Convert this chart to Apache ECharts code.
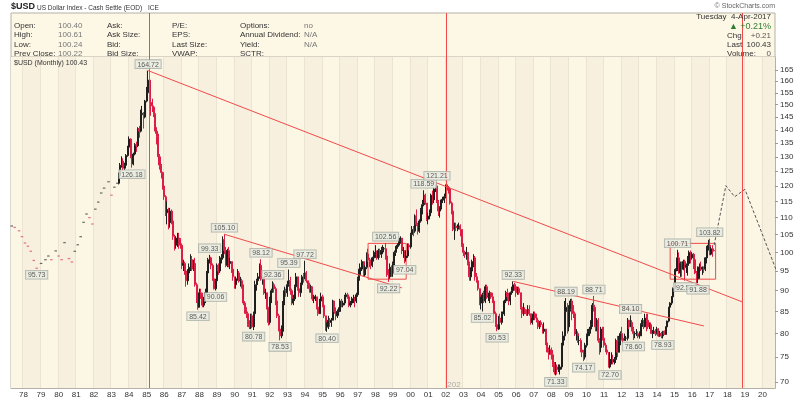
<!DOCTYPE html>
<html>
<head>
<meta charset="utf-8">
<script src="https://cdn.jsdelivr.net/npm/echarts@6/dist/echarts.min.js"></script>
<style>
  html, body { margin: 0; padding: 0; background: #fff; }
  #chart { width: 800px; height: 399px; }
</style>
</head>
<body>
<div id="chart"></div>
<script>
// months on the axis: 1977-05 .. 2021-12 (axis stops at 2020-09, the rest is for the projection)
const months = []
for (let y = 1977; y <= 2021; y++) {
  for (let m = 1; m <= 12; m++) {
    if (y === 1977 && m < 5) continue
    months.push(y + '-' + String(m).padStart(2, '0'))
  }
}
const axisEnd = '2020-09'
const yMin = 68.9
const yMax = 171.0
const yTicks = [70, 75, 80, 85, 90, 95, 100, 105, 110, 115, 120, 125, 130, 135, 140, 145, 150, 155, 160, 165]

// sparse early closes 1977-05 .. 1983-05 (drawn as dots)
const earlyCloses = [
  107.5, null, 107.1, null, null, 106.1, null, 104.4,
  null, 102.6, null, 101.7, null, 100.3, null, 97.8, null, 95.73, null, null,
  97.0, null, null, 98.0, null, 99.0, null, 98.0, null, null, 100.4, null,
  99.0, null, 98.0, null, 102.7, null, null, 98.3, null, 97.4, null, 100.3,
  null, 102.1, null, 104.4, null, 108.6, null, 111.1, null, 110.0, null, 108.1,
  null, 112.6, null, 114.8, null, 117.7, null, 119.3, null, null, 121.4, null,
  117.0, null, 119.6, null, 120.9
]

// monthly candles from 1983-06 .. 2017-04 (open = previous close)
const candleStart = '1983-06'
const closes = [
  123.5, 127.0, 128.5, 126.0, 127.0, 130.5, 133.5,
  136.5, 130.0, 127.5, 131.0, 134.5, 134.0, 140.5, 139.5, 146.0, 146.5, 145.0, 151.5,
  155.0, 160.5, 151.0, 149.5, 149.0, 146.0, 139.5, 137.5, 130.0, 127.0, 124.5, 120.0,
  116.5, 111.5, 112.5, 108.5, 112.0, 109.0, 104.5, 102.0, 102.5, 104.0, 103.5, 102.0,
  96.5, 97.0, 95.0, 92.5, 94.5, 96.0, 98.0, 95.5, 97.0, 91.5, 87.5, 86.0,
  89.5, 89.0, 86.5, 87.5, 89.5, 94.5, 98.0, 98.5, 96.5, 93.0, 90.5, 92.5,
  96.5, 95.0, 98.0, 98.5, 103.5, 100.5, 96.5, 100.5, 97.0, 97.5, 95.5, 93.5,
  91.5, 93.0, 94.5, 92.5, 92.5, 91.5, 87.0, 85.5, 84.5, 82.0, 81.5, 84.0,
  81.5, 84.5, 91.5, 92.5, 93.5, 96.5, 93.0, 93.5, 89.5, 89.5, 86.0, 82.5,
  88.0, 90.0, 91.5, 90.5, 87.5, 84.0, 81.0, 79.5, 80.5, 87.0, 90.0, 89.5,
  91.5, 92.5, 90.0, 87.0, 88.0, 91.0, 93.5, 90.5, 89.5, 91.5, 93.5, 93.0,
  94.5, 92.5, 91.5, 90.5, 91.0, 88.0, 88.5, 88.5, 86.0, 84.5, 87.5, 88.5,
  86.5, 84.0, 81.5, 81.5, 83.0, 82.5, 83.0, 87.5, 85.0, 84.0, 85.0, 85.0,
  87.5, 86.5, 87.0, 88.5, 89.0, 88.5, 86.5, 87.0, 88.0, 88.0, 87.5, 89.0,
  93.0, 95.5, 95.5, 97.5, 94.0, 96.0, 99.5, 98.0, 97.5, 96.5, 98.5, 99.5,
  100.0, 98.5, 100.5, 99.5, 100.5, 101.0, 101.0, 99.0, 94.0, 93.5, 96.0, 94.5,
  97.0, 100.0, 101.5, 102.0, 103.0, 104.0, 100.5, 100.5, 98.5, 99.0, 102.0, 101.5,
  105.0, 106.5, 106.0, 110.5, 108.0, 106.0, 109.0, 112.5, 114.0, 117.0, 114.5, 109.5,
  110.5, 111.5, 117.0, 115.5, 119.0, 120.0, 115.0, 112.0, 113.0, 115.5, 115.5, 116.5,
  120.0, 119.5, 119.0, 114.5, 112.0, 106.5, 107.5, 107.0, 107.0, 107.5, 106.5, 102.0,
  100.0, 99.5, 100.0, 97.0, 93.5, 95.0, 97.5, 98.5, 93.5, 92.5, 90.5, 87.0,
  87.5, 89.0, 87.5, 91.0, 88.5, 88.5, 89.5, 88.5, 87.5, 84.5, 82.0, 81.0,
  83.5, 82.5, 84.5, 84.5, 87.5, 89.5, 88.5, 87.5, 89.5, 90.0, 91.5, 91.0,
  89.5, 90.5, 89.5, 86.0, 84.5, 85.5, 85.0, 84.5, 85.5, 84.5, 82.5, 83.5,
  84.5, 83.5, 83.0, 81.5, 82.5, 82.0, 80.5, 81.0, 78.0, 76.5, 76.0, 76.5,
  75.5, 73.5, 72.0, 73.0, 72.5, 72.5, 73.0, 77.5, 79.5, 85.0, 86.0, 81.5,
  85.5, 87.5, 85.5, 84.5, 80.0, 80.0, 78.5, 78.5, 76.5, 76.0, 75.0, 77.5,
  79.5, 80.5, 81.0, 82.0, 86.5, 86.0, 81.5, 83.0, 78.5, 77.0, 81.0, 79.0,
  77.5, 76.5, 76.0, 73.0, 74.5, 74.5, 74.0, 74.5, 78.5, 76.0, 78.5, 80.0,
  79.0, 78.5, 79.0, 79.0, 83.0, 81.5, 82.5, 81.0, 80.0, 80.0, 80.0, 79.5,
  79.5, 82.0, 83.0, 81.5, 83.5, 83.0, 81.5, 82.0, 80.0, 80.5, 80.5, 80.0,
  81.0, 79.5, 80.0, 79.5, 80.5, 79.8, 81.5, 82.8, 86.0, 87.0, 88.5, 90.5,
  95.0, 95.5, 98.5, 94.5, 97.0, 95.5, 97.5, 96.0, 96.5, 97.0, 100.0, 98.5,
  99.5, 98.0, 94.5, 93.0, 96.0, 96.0, 95.5, 96.0, 95.5, 98.5, 101.5, 102.0,
  99.5, 101.0, 100.5, 100.43
]
const highs = [
  124.5, 127.8, 130.2, 129.5, 127.9, 131.0, 134.0,
  137.5, 136.8, 130.5, 131.5, 135.0, 135.5, 141.0, 141.5, 148.0, 149.5, 147.0, 152.0,
  157.5, 164.72, 160.8, 154.0, 152.5, 149.5, 146.5, 141.0, 138.5, 131.0, 127.5, 124.8,
  121.0, 117.0, 115.0, 113.0, 113.0, 112.5, 109.0, 105.0, 104.5, 105.5, 105.5, 104.0,
  102.5, 98.0, 97.5, 95.5, 95.5, 97.0, 99.5, 99.0, 98.0, 98.5, 92.0, 88.0,
  90.5, 90.5, 89.5, 88.5, 90.5, 95.0, 98.5, 99.33, 98.8, 97.0, 93.5, 93.0,
  97.0, 97.0, 99.0, 99.5, 104.5, 105.10, 101.5, 101.0, 101.5, 98.5, 97.5, 95.5,
  93.5, 93.5, 95.5, 95.0, 93.5, 93.0, 91.5, 87.5, 86.0, 85.0, 83.0, 84.5,
  84.5, 85.0, 92.5, 93.0, 94.5, 97.0, 98.12, 95.0, 93.5, 90.5, 89.5, 86.0,
  88.5, 90.5, 92.36, 92.0, 91.0, 88.0, 84.5, 81.5, 81.8, 87.5, 91.0, 90.5,
  92.5, 95.39, 93.5, 90.5, 89.0, 91.5, 94.5, 93.5, 91.5, 92.0, 94.0, 94.5,
  97.72, 95.0, 92.5, 92.0, 91.5, 91.0, 89.0, 89.0, 88.5, 86.5, 88.0, 89.5,
  89.0, 87.0, 84.0, 82.5, 84.0, 83.5, 83.5, 87.8, 87.5, 86.0, 85.5, 86.0,
  88.0, 88.0, 87.5, 89.0, 89.5, 89.5, 88.5, 87.5, 88.5, 89.0, 88.5, 89.5,
  93.5, 97.0, 96.0, 98.0, 97.5, 96.5, 100.0, 101.0, 98.5, 97.5, 98.8, 100.5,
  102.0, 100.5, 101.0, 101.0, 101.5, 102.0, 101.5, 102.56, 99.5, 95.5, 97.0, 96.5,
  97.5, 100.5, 101.8, 102.5, 103.5, 104.5, 104.0, 101.5, 100.5, 100.5, 102.5, 102.5,
  105.5, 107.5, 107.5, 111.0, 112.5, 108.5, 109.5, 113.0, 115.5, 118.59, 117.5, 114.5,
  111.5, 112.5, 117.5, 118.5, 119.5, 120.5, 121.21, 115.5, 113.5, 115.8, 116.5, 117.5,
  120.5, 120.5, 120.0, 119.5, 115.0, 112.0, 108.5, 108.5, 108.0, 108.5, 108.0, 106.5,
  102.5, 100.5, 101.5, 100.0, 97.5, 96.0, 98.0, 99.5, 99.0, 94.5, 93.0, 90.5,
  88.5, 89.5, 90.0, 91.5, 91.5, 89.5, 90.0, 89.5, 89.5, 88.0, 85.0, 83.0,
  84.0, 84.5, 85.0, 85.0, 87.8, 90.0, 90.5, 89.5, 89.8, 91.0, 92.33, 92.0,
  91.5, 91.0, 91.0, 89.5, 86.0, 87.0, 86.0, 85.5, 86.5, 86.5, 84.5, 84.5,
  85.0, 85.0, 84.5, 83.0, 82.8, 83.0, 82.0, 82.5, 81.0, 78.0, 77.0, 77.5,
  77.0, 76.5, 74.0, 74.0, 73.5, 73.5, 73.5, 78.0, 80.5, 87.5, 88.19, 87.0,
  86.5, 88.0, 88.1, 86.5, 85.0, 81.0, 80.5, 79.5, 79.0, 77.0, 76.5, 78.0,
  80.0, 81.0, 81.5, 83.0, 87.0, 88.71, 86.0, 83.5, 83.5, 79.0, 81.5, 81.5,
  81.5, 78.0, 77.0, 76.0, 76.0, 76.0, 75.5, 75.0, 78.9, 79.5, 79.5, 80.5,
  81.5, 79.5, 80.0, 79.5, 83.5, 83.0, 84.10, 83.0, 81.5, 80.5, 81.0, 80.5,
  80.5, 82.3, 83.5, 83.0, 84.5, 84.5, 84.5, 82.5, 82.5, 80.8, 81.5, 81.0,
  81.5, 81.2, 80.6, 80.4, 80.6, 80.7, 81.6, 82.9, 86.1, 87.2, 88.7, 90.8,
  95.5, 95.7, 100.71, 100.0, 97.5, 97.5, 98.0, 98.0, 97.0, 99.0, 100.5, 100.5,
  100.0, 99.8, 98.5, 95.0, 96.2, 97.0, 97.5, 96.2, 96.2, 98.7, 101.8, 103.5,
  103.82, 101.5, 102.0, 100.61
]
const lows = [
  120.5, 122.8, 126.2, 125.0, 125.2, 126.5, 130.0,
  133.0, 129.5, 126.18, 127.0, 130.5, 131.8, 133.5, 137.0, 139.0, 143.0, 140.5, 144.5,
  151.0, 154.0, 148.0, 145.5, 147.0, 145.0, 138.5, 134.5, 127.0, 125.5, 122.5, 118.8,
  115.5, 110.5, 108.0, 106.5, 107.0, 108.0, 103.5, 100.5, 101.0, 101.5, 101.0, 101.0,
  95.5, 95.0, 94.0, 91.0, 91.5, 94.0, 95.0, 95.0, 95.0, 91.0, 87.0, 85.42,
  86.0, 88.0, 86.0, 86.0, 87.0, 89.0, 94.0, 97.0, 95.5, 92.5, 90.3, 90.06,
  92.0, 94.0, 94.5, 97.0, 98.0, 99.5, 96.0, 96.0, 96.0, 95.5, 94.5, 92.5,
  90.5, 90.5, 92.5, 92.0, 91.0, 90.5, 86.5, 84.5, 83.5, 81.5, 81.0, 81.0,
  81.2, 80.78, 84.0, 90.0, 91.5, 93.0, 92.5, 91.5, 89.0, 88.0, 85.5, 81.8,
  82.0, 87.0, 89.5, 89.5, 86.5, 83.5, 80.5, 78.53, 79.0, 80.0, 86.5, 88.5,
  88.5, 91.0, 89.0, 86.5, 86.5, 87.5, 90.5, 90.0, 88.5, 88.5, 91.0, 92.0,
  93.0, 92.0, 90.5, 89.5, 89.5, 87.5, 87.0, 87.5, 85.5, 84.0, 84.5, 87.0,
  86.0, 83.5, 80.6, 80.40, 81.0, 81.5, 81.5, 83.0, 84.5, 83.0, 83.5, 84.0,
  85.0, 86.0, 86.0, 86.5, 88.0, 88.0, 86.0, 86.0, 86.5, 87.0, 86.0, 87.0,
  88.5, 92.5, 94.0, 95.0, 93.5, 93.5, 95.5, 97.5, 96.0, 95.5, 96.0, 97.5,
  98.5, 98.0, 98.0, 98.5, 98.5, 99.5, 100.0, 98.0, 93.5, 92.22, 93.0, 93.5,
  93.5, 96.5, 99.0, 101.0, 101.5, 102.5, 99.5, 98.5, 97.04, 97.5, 98.5, 100.5,
  101.0, 104.0, 104.5, 105.5, 107.5, 105.0, 105.5, 108.5, 111.0, 113.5, 114.0, 109.0,
  108.0, 109.5, 111.0, 114.0, 114.5, 118.0, 114.5, 110.5, 110.0, 112.5, 114.5, 114.5,
  116.0, 118.5, 117.5, 114.0, 111.0, 106.0, 103.5, 106.0, 106.0, 106.5, 104.5, 101.5,
  99.0, 98.5, 98.0, 96.5, 92.5, 92.5, 94.5, 96.0, 92.5, 92.0, 90.0, 86.5,
  85.5, 85.02, 87.0, 87.0, 88.0, 87.5, 87.0, 88.0, 87.0, 84.0, 81.5, 80.53,
  80.8, 82.0, 82.0, 83.5, 84.0, 87.0, 87.5, 86.5, 86.5, 89.0, 89.5, 90.0,
  88.5, 89.0, 89.0, 85.5, 83.5, 84.0, 84.5, 84.0, 84.0, 84.0, 82.0, 82.0,
  83.0, 83.0, 82.5, 81.0, 81.0, 81.5, 80.0, 80.0, 77.5, 76.0, 74.5, 75.5,
  74.5, 73.0, 71.5, 71.33, 71.5, 72.0, 71.5, 72.5, 76.0, 78.5, 84.0, 80.0,
  80.5, 85.0, 83.0, 83.5, 79.5, 78.5, 78.0, 77.5, 76.0, 75.0, 74.17, 74.5,
  77.0, 79.0, 79.5, 80.0, 81.5, 85.0, 80.5, 80.5, 78.0, 75.5, 76.0, 78.5,
  77.0, 76.0, 75.5, 72.9, 72.70, 73.5, 73.5, 73.5, 73.8, 75.0, 76.0, 77.5,
  78.5, 78.2, 78.5, 78.5, 78.5, 81.0, 81.5, 80.5, 78.60, 79.0, 79.5, 79.0,
  78.9, 79.5, 81.5, 81.0, 81.5, 80.5, 81.0, 81.0, 80.0, 79.0, 80.0, 79.5,
  79.8, 79.3, 79.3, 79.0, 78.93, 79.7, 79.8, 81.2, 82.5, 84.5, 86.5, 87.0,
  90.0, 93.2, 95.0, 94.3, 93.5, 93.5, 95.2, 92.52, 94.5, 93.8, 96.5, 97.0,
  98.0, 95.5, 94.2, 91.9, 91.88, 93.0, 95.0, 94.0, 94.5, 95.0, 97.0, 100.5,
  99.2, 99.2, 98.8, 100.24
]
if (closes.length !== 407 || highs.length !== 407 || lows.length !== 407 || earlyCloses.length !== 73) {
  throw new Error('data length ' + closes.length + ' ' + highs.length + ' ' + lows.length + ' ' + earlyCloses.length)
}

// labelled highs and lows
const annMonths = ['1978-10', '1984-03', '1985-02', '1987-12', '1988-08', '1988-12', '1989-06', '1991-02', '1991-07', '1992-03',
  '1992-08', '1993-02', '1994-01', '1995-04', '1998-08', '1998-10', '1999-09', '2000-10', '2001-07', '2004-02',
  '2004-12', '2005-11', '2008-04', '2008-11', '2009-11', '2010-06', '2011-05', '2012-07', '2012-09', '2014-05',
  '2015-03', '2015-08', '2016-05', '2017-01']
const annValues = [95.73, 126.18, 164.72, 85.42, 99.33, 90.06, 105.10, 80.78, 98.12, 92.36,
  78.53, 95.39, 97.72, 80.40, 102.56, 92.22, 97.04, 118.59, 121.21, 85.02,
  80.53, 92.33, 71.33, 88.19, 74.17, 88.71, 72.70, 84.10, 78.60, 78.93,
  100.71, 92.52, 91.88, 103.82]
const annSides = ['bottom', 'bottom', 'top', 'bottom', 'top', 'bottom', 'top', 'bottom', 'top', 'top',
  'bottom', 'top', 'top', 'bottom', 'top', 'bottom', 'bottom', 'top', 'top', 'bottom',
  'bottom', 'top', 'bottom', 'top', 'bottom', 'top', 'bottom', 'top', 'bottom', 'bottom',
  'top', 'bottom', 'bottom', 'top']

// drawn annotations
const trendLines = [
  [['1985-02', 164.72], ['2018-11', 87.3]],
  [['1989-06', 105.10], ['1999-07', 90.7]],
  [['2005-11', 92.33], ['2016-09', 81.7]]
]
const eventMonths = ['1985-03', '2002-01', '2018-11']
const boxes = [
  [['1997-08', 102.5], ['1999-10', 92.9]],
  [['2014-10', 102.5], ['2017-05', 92.9]]
]
const projection = [['2017-04', 102.0], ['2017-12', 120.1], ['2018-06', 116.5], ['2019-01', 118.9], ['2021-11', 83.5]]
const lastPrice = 100.43

const upColor = '#1e1e1e'
const downColor = '#dc1e46'
const lineRed = '#f24a4a'
const font = '"Liberation Sans", Arial, sans-serif'

// candles
const startIdx = months.indexOf(candleStart)
const candleData = []
for (let i = 0; i < startIdx + closes.length; i++) {
  const j = i - startIdx
  if (j < 0) { candleData.push(['-', '-', '-', '-']); continue }
  const open = j === 0 ? earlyCloses[earlyCloses.length - 1] : closes[j - 1]
  candleData.push([open, closes[j], lows[j], highs[j]])
}

// early dots
const dotData = []
let prev = null
earlyCloses.forEach((v, i) => {
  if (v == null) return
  dotData.push({ value: [months[i], v], itemStyle: { color: prev != null && v < prev ? '#e0506a' : '#444' } })
  prev = v
})

const isJan = (i, v) => v.endsWith('-01')

const annData = annMonths.map((m, i) => ({
  value: [m, annValues[i]],
  label: { position: annSides[i] }
}))

// header texts as title components: [text, x, top, size, color, bold, rightAligned]
const headerTexts = [
  ['$USD', 11, 2, 9, '#222', true, false],
  ['US Dollar Index - Cash Settle (EOD)', 37, 4, 6.5, '#333', false, false],
  ['ICE', 148, 4, 6.5, '#333', false, false],
  ['\u00a9 StockCharts.com', 775, 2, 7, '#666', false, true],
  ['Tuesday  4-Apr-2017', 771, 12, 8, '#333', false, true],
  ['\u25b2', 729, 21.5, 9, '#2f7d32', false, false],
  ['+0.21%', 771, 21.5, 9, '#2f7d32', false, true],
  ['Chg', 727, 31.5, 8, '#333', false, false],
  ['+0.21', 771, 31.5, 8, '#555', false, true],
  ['Last', 727, 40.5, 8, '#333', false, false],
  ['100.43', 771, 40.5, 8, '#333', false, true],
  ['Volume:', 727, 49.5, 8, '#333', false, false],
  ['0', 771, 49.5, 8, '#555', false, true],
  ['$USD (Monthly) 100.43', 14, 59, 7, '#333', false, false]
]
const infoRows = [
  ['Open:', '100.40', 'Ask:', 'P/E:', 'Options:', 'no'],
  ['High:', '100.61', 'Ask Size:', 'EPS:', 'Annual Dividend:', 'N/A'],
  ['Low:', '100.24', 'Bid:', 'Last Size:', 'Yield:', 'N/A'],
  ['Prev Close:', '100.22', 'Bid Size:', 'VWAP:', 'SCTR:', '']
]
const infoX = [14, 58, 107, 172, 240, 304]
const infoTop = [21.5, 30.5, 40, 49]
infoRows.forEach((row, r) => {
  row.forEach((t, c) => {
    if (t) headerTexts.push([t, infoX[c], infoTop[r], 8, (c === 1 || c === 5) ? '#777' : '#333', false, false])
  })
})
const titles = headerTexts.map(([text, x, top, size, color, bold, right]) => Object.assign(
  right ? { right: 800 - x } : { left: x },
  { text, top, padding: 0, textStyle: { fontSize: size, color, fontWeight: bold ? 'bold' : 'normal', fontFamily: font, lineHeight: size + 1 } }
))

const chart = echarts.init(document.getElementById('chart'))
chart.setOption({
  animation: false,
  backgroundColor: '#fff',
  textStyle: { fontFamily: font },
  title: titles,
  grid: [
    { left: 11, right: 25, top: 57, bottom: 11, show: true, backgroundColor: '#fdf7e6', borderColor: '#b5b1a5', borderWidth: 1 },
    { left: 11, right: 25, top: 13, height: 44, show: true, backgroundColor: '#fdf7e6', borderColor: '#b5b1a5', borderWidth: 1 }
  ],
  xAxis: [
    {
      type: 'category', data: months, max: months.indexOf(axisEnd), boundaryGap: true,
      axisLine: { onZero: false, lineStyle: { color: '#b5b1a5' } },
      axisTick: { interval: isJan, length: 3, lineStyle: { color: '#999' } },
      axisLabel: { interval: isJan, formatter: v => v.slice(2, 4), fontSize: 8, color: '#333', margin: 3, fontFamily: font },
      splitLine: { show: true, interval: isJan, lineStyle: { color: '#ebe4d2', width: 1 } },
      splitArea: { show: true, interval: isJan, areaStyle: { color: ['#fcf6e5', '#f7f0de'] } }
    },
    { gridIndex: 1, type: 'category', data: months, max: months.indexOf(axisEnd), boundaryGap: true, show: false }
  ],
  yAxis: [
    {
      type: 'log', logBase: 10, position: 'right', min: yMin, max: yMax,
      axisLine: { show: true, onZero: false, lineStyle: { color: '#b5b1a5' } },
      axisTick: { show: true, customValues: yTicks, length: 3, lineStyle: { color: '#999' } },
      axisLabel: { customValues: yTicks, fontSize: 8, color: '#333', margin: 5, fontFamily: font },
      splitLine: { show: true, lineStyle: { color: '#ebe4d2' } }
    },
    { gridIndex: 1, type: 'value', min: 0, max: 1, show: false }
  ],
  series: [
    {
      name: 'candles', type: 'candlestick', data: candleData, barWidth: 1.5,
      itemStyle: { color: upColor, color0: downColor, borderColor: upColor, borderColor0: downColor, borderWidth: 1 }
    },
    {
      name: 'early', type: 'scatter', data: dotData, symbol: 'rect', symbolSize: [2.5, 1.2]
    },
    { name: 'trend1', type: 'line', data: trendLines[0], symbol: 'none', lineStyle: { color: lineRed, width: 1 } },
    { name: 'trend2', type: 'line', data: trendLines[1], symbol: 'none', lineStyle: { color: lineRed, width: 1 } },
    {
      name: 'trend3', type: 'line', data: trendLines[2], symbol: 'none', lineStyle: { color: lineRed, width: 1 },
      markArea: {
        silent: true,
        itemStyle: { color: 'rgba(0,0,0,0)', borderColor: lineRed, borderWidth: 1 },
        data: boxes.map(b => [{ xAxis: b[0][0], yAxis: b[0][1] }, { xAxis: b[1][0], yAxis: b[1][1] }])
      }
    },
    // red event lines, in the chart and through the header box
    ...[0, 1].map(g => ({
      name: 'events' + g, type: 'line', data: [], symbol: 'none', z: 20, xAxisIndex: g, yAxisIndex: g,
      markLine: {
        symbol: 'none', silent: true, label: { show: false },
        lineStyle: { color: lineRed, width: 1, type: 'solid', opacity: 1 },
        data: eventMonths.map(m => ({ xAxis: m }))
      }
    })),
    {
      name: 'projection', type: 'line', data: projection, symbol: 'none', clip: false,
      lineStyle: { color: '#555', width: 1, type: [3, 2] }
    },
    {
      name: 'last', type: 'line', data: [], symbol: 'none', z: 22,
      markLine: {
        symbol: 'none', silent: true,
        data: [{
          yAxis: lastPrice, lineStyle: { opacity: 0 },
          label: {
            position: 'end', distance: 2, formatter: '100.43', fontSize: 8, fontWeight: 'bold', color: '#000',
            backgroundColor: '#fff', borderColor: '#333', borderWidth: 1, padding: [1, 1, 0, 2]
          }
        }]
      }
    },
    {
      name: 'labels', type: 'scatter', data: annData, symbolSize: 1, itemStyle: { color: 'rgba(0,0,0,0)' },
      label: {
        show: true, formatter: p => p.value[1].toFixed(2), fontSize: 7, color: '#333', distance: 2,
        backgroundColor: '#e9ece2', borderColor: '#9ea59c', borderWidth: 0.8, padding: [1, 2, 0, 2]
      },
      z: 21
    },
    {
      name: 'tag', type: 'scatter', data: [['2002-01', 69.6]], symbolSize: 1, itemStyle: { color: 'rgba(0,0,0,0)' },
      label: { show: true, position: 'right', distance: 1, formatter: '202', fontSize: 8, color: '#999' }
    }
  ]
})
</script>
</body>
</html>
